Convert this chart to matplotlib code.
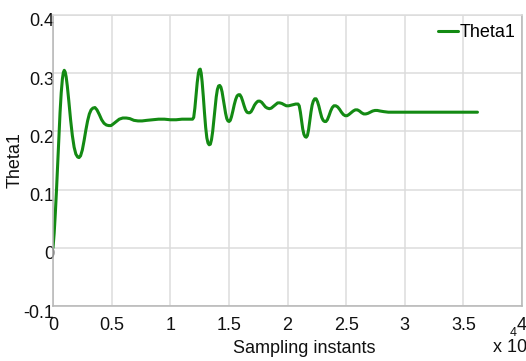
import matplotlib.pyplot as plt
import matplotlib.transforms as mtransforms

plt.rcParams['font.family'] = ['Liberation Sans', 'DejaVu Sans']

# sampling instants, in units of 1e4
x_vals = [0.000, 0.010, 0.020, 0.030, 0.040, 0.050, 0.060, 0.070, 0.080, 0.088,
          0.096, 0.104, 0.112, 0.122, 0.135, 0.150, 0.165, 0.180, 0.195, 0.210,
          0.222, 0.235, 0.250, 0.265, 0.280, 0.295, 0.310, 0.325, 0.340, 0.358,
          0.375, 0.395, 0.415, 0.435, 0.455, 0.475, 0.495, 0.515, 0.540, 0.565,
          0.595, 0.625, 0.655, 0.690, 0.725, 0.760, 0.800, 0.850, 0.900, 0.950,
          1.000, 1.050, 1.100, 1.150, 1.190,
          1.200, 1.210, 1.220, 1.230, 1.240, 1.248, 1.256, 1.264, 1.272, 1.282,
          1.292, 1.302, 1.312, 1.322, 1.332, 1.342, 1.352, 1.362, 1.372, 1.382,
          1.392, 1.402, 1.412, 1.422, 1.432, 1.442, 1.452, 1.462, 1.472, 1.482,
          1.492, 1.502, 1.512, 1.522, 1.534, 1.546, 1.558, 1.570, 1.582, 1.594,
          1.606, 1.618, 1.630, 1.642, 1.654, 1.666, 1.678, 1.690, 1.704, 1.718,
          1.732, 1.748, 1.764, 1.780, 1.796, 1.812, 1.828, 1.845, 1.862, 1.880,
          1.898, 1.916, 1.934, 1.952, 1.970, 1.990, 2.010, 2.030, 2.050, 2.070,
          2.090,
          2.100, 2.110, 2.120, 2.130, 2.140, 2.150, 2.160, 2.170, 2.180, 2.190,
          2.200, 2.210, 2.220, 2.232, 2.244, 2.256, 2.268, 2.280, 2.292, 2.304,
          2.316, 2.328, 2.340, 2.354, 2.368, 2.382, 2.396, 2.412, 2.428, 2.444,
          2.460, 2.476, 2.492, 2.508, 2.524, 2.542, 2.560, 2.578, 2.596, 2.614,
          2.632, 2.650, 2.668, 2.686, 2.706, 2.726, 2.746, 2.766, 2.790, 2.820,
          2.860, 2.900, 3.000, 3.100, 3.200, 3.300, 3.400, 3.500, 3.620]
theta1 = [0.000, 0.025, 0.060, 0.100, 0.145, 0.190, 0.232, 0.266, 0.290, 0.301,
          0.305, 0.302, 0.294, 0.278, 0.252, 0.220, 0.193, 0.173, 0.161, 0.156,
          0.155, 0.158, 0.168, 0.184, 0.202, 0.218, 0.230, 0.237, 0.240, 0.241,
          0.237, 0.229, 0.220, 0.214, 0.211, 0.210, 0.210, 0.213, 0.217, 0.221,
          0.223, 0.223, 0.222, 0.219, 0.218, 0.218, 0.219, 0.220, 0.221, 0.221,
          0.220, 0.220, 0.221, 0.221, 0.221,
          0.224, 0.240, 0.262, 0.284, 0.300, 0.306, 0.307, 0.300, 0.285, 0.260,
          0.232, 0.207, 0.189, 0.180, 0.177, 0.178, 0.186, 0.200, 0.220, 0.241,
          0.259, 0.272, 0.278, 0.279, 0.276, 0.268, 0.256, 0.243, 0.231, 0.222,
          0.218, 0.217, 0.219, 0.225, 0.235, 0.246, 0.255, 0.261, 0.263, 0.263,
          0.259, 0.252, 0.244, 0.237, 0.233, 0.232, 0.232, 0.234, 0.239, 0.245,
          0.249, 0.252, 0.252, 0.250, 0.246, 0.242, 0.240, 0.239, 0.240, 0.243,
          0.246, 0.249, 0.249, 0.248, 0.246, 0.244, 0.244, 0.245, 0.246, 0.247,
          0.247,
          0.244, 0.233, 0.218, 0.204, 0.195, 0.191, 0.190, 0.193, 0.203, 0.218,
          0.233, 0.245, 0.252, 0.256, 0.256, 0.251, 0.243, 0.233, 0.224, 0.219,
          0.217, 0.217, 0.220, 0.227, 0.235, 0.241, 0.244, 0.244, 0.242, 0.238,
          0.233, 0.229, 0.227, 0.227, 0.229, 0.232, 0.235, 0.237, 0.237, 0.235,
          0.232, 0.230, 0.230, 0.231, 0.233, 0.235, 0.236, 0.236, 0.235, 0.234,
          0.233, 0.233, 0.233, 0.233, 0.233, 0.233, 0.233, 0.233, 0.233]

x_ticks = [0, 0.5, 1, 1.5, 2, 2.5, 3, 3.5, 4]
x_tick_labels = ['0', '0.5', '1', '1.5', '2', '2.5', '3', '3.5', '4']
y_ticks = [-0.1, 0, 0.1, 0.2, 0.3, 0.4]
y_tick_labels = ['-0.1', '0', '0.1', '0.2', '0.3', '0.4']

fig = plt.figure(figsize=(5.26, 3.61), dpi=100)
ax = fig.add_axes([53 / 526, 55 / 361, 469 / 526, 291 / 361])

ax.plot(x_vals, theta1, color='#138a13', linewidth=2.2, label='Theta1',
        solid_joinstyle='round', solid_capstyle='round')

ax.set_xlim(0, 4)
ax.set_ylim(-0.1, 0.4)
ax.set_xticks(x_ticks)
ax.set_xticklabels(x_tick_labels)
ax.set_yticks(y_ticks)
ax.set_yticklabels(y_tick_labels)
ax.tick_params(length=0, labelsize=13, colors='#111111')
ax.tick_params(axis='x', pad=8)
ax.tick_params(axis='y', pad=-1)
shift = mtransforms.ScaledTranslation(0, -5 / 100, fig.dpi_scale_trans)
for lab in ax.get_yticklabels():
    lab.set_transform(lab.get_transform() + shift)

ax.grid(True, color='#dcdcdc', linewidth=1.1)
for side in ['left', 'bottom', 'right']:
    ax.spines[side].set_color('#b5b5b5')
    ax.spines[side].set_linewidth(1.1)
ax.spines['top'].set_color('#dcdcdc')
ax.spines['top'].set_linewidth(1.1)

ax.set_xlabel('Sampling instants', fontsize=13, color='#111111')
ax.xaxis.set_label_coords(0.535, -0.117)
ax.set_ylabel('Theta1', fontsize=13, color='#111111')
ax.yaxis.set_label_coords(-0.062, 0.5)

fig.text(493 / 526, 1 - 348 / 361, 'x 10', fontsize=13, color='#111111',
         va='center', ha='left')
fig.text(510 / 526, 1 - 333 / 361, '4', fontsize=9, color='#111111',
         va='center', ha='left')

ax.legend(loc='center right', bbox_to_anchor=(0.987, 0.939), frameon=False,
          fontsize=13, handlelength=1.1, handletextpad=0.1, borderpad=0,
          borderaxespad=0)

fig.savefig('out.png', dpi=100)
